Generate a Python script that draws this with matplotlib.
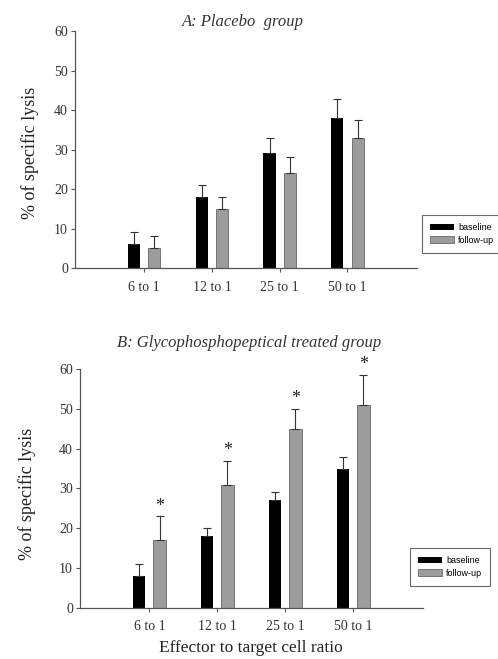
"""
Cytotoxicity bar charts: placebo vs glycophosphopeptical treated group.
"""

import matplotlib
matplotlib.use("Agg")
import matplotlib.pyplot as plt
import numpy as np

# ── data ─────────────────────────────────────────────────────────────
ratios = ["6 to 1", "12 to 1", "25 to 1", "50 to 1"]

placebo_base = [6, 18, 29, 38]
placebo_base_err = [3, 3, 4, 4.7]
placebo_follow = [5, 15, 24, 33]
placebo_follow_err = [3, 3, 4, 4.5]

treated_base = [8, 18, 27, 35]
treated_base_err = [3, 2, 2, 3]
treated_follow = [17, 31, 45, 51]
treated_follow_err = [6, 6, 5, 7.5]
treated_signif = [True, True, True, True]

yticks = [0, 10, 20, 30, 40, 50, 60]

SERIF = ["Liberation Serif", "DejaVu Serif"]
SANS = ["Liberation Sans", "DejaVu Sans"]
AXCOL = "#555555"


# ──────────────────────────────────────────────────────────────────────
def _panel(fig, rect, base, base_err, follow, follow_err, title, title_y,
           ylab_xy, legend_anchor, stars=None):
    ax = fig.add_axes(rect)
    x = np.arange(len(ratios))
    w, off = 0.18, 0.15
    ekw = dict(ecolor="#333333", elinewidth=0.8, capsize=3, capthick=0.8)
    zeros = np.zeros(len(ratios))
    ax.bar(x - off, base, w, color="black", label="baseline",
           yerr=[zeros, base_err], error_kw=ekw, zorder=2)
    ax.bar(x + off, follow, w, color="#9c9c9c", edgecolor="#666666",
           linewidth=0.6, label="follow-up",
           yerr=[zeros, follow_err], error_kw=ekw, zorder=2)

    if stars is not None:
        for xi, v, e, s in zip(x, follow, follow_err, stars):
            if s:
                ax.text(xi + off, v + e + 2.6, "*", ha="center", va="center",
                        fontsize=13, family=SERIF, color="#222222",
                        clip_on=False)

    ax.set_xlim(-1.02, 4.02)
    ax.set_ylim(0, 60)
    ax.set_yticks(yticks)
    ax.set_xticks(x)
    ax.set_xticklabels(ratios)
    for lab in ax.get_xticklabels() + ax.get_yticklabels():
        lab.set_family(SERIF)
        lab.set_fontsize(10)
        lab.set_color("#333333")
    ax.tick_params(axis="y", length=3, width=0.8, color=AXCOL, pad=2)
    ax.tick_params(axis="x", length=3, width=0.8, color=AXCOL, pad=6)
    for side in ("top", "right"):
        ax.spines[side].set_visible(False)
    for side in ("left", "bottom"):
        ax.spines[side].set_color(AXCOL)
        ax.spines[side].set_linewidth(0.9)

    ax.set_ylabel("% of specific lysis", family=SERIF, fontsize=13,
                  color="#222222")
    ax.yaxis.set_label_coords(*ylab_xy)
    fig.text(ax.get_position().x0 + 0.5 * ax.get_position().width - 0.005,
             title_y, title, family=SERIF, style="italic", fontsize=12,
             color="#333333", ha="center", va="center")

    leg = ax.legend(loc="upper left", bbox_to_anchor=legend_anchor,
                    bbox_transform=fig.transFigure, frameon=True,
                    fancybox=False, prop={"family": SANS, "size": 6.5},
                    handlelength=2.6, handleheight=0.8,
                    borderpad=0.9, labelspacing=0.4, handletextpad=0.5,
                    borderaxespad=0)
    leg.get_frame().set_edgecolor("#444444")
    leg.get_frame().set_linewidth(0.8)
    return ax


fig = plt.figure(figsize=(4.98, 6.59), dpi=100)

_panel(fig, [0.1506, 0.5933, 0.686, 0.3596],
       placebo_base, placebo_base_err, placebo_follow, placebo_follow_err,
       "A: Placebo  group", 1 - 22 / 659, (-0.106, 0.487),
       (422 / 498, 1 - 215 / 659))

ax_b = _panel(fig, [0.1606, 0.0774, 0.688, 0.3627],
              treated_base, treated_base_err, treated_follow,
              treated_follow_err,
              "B: Glycophosphopeptical treated group", 1 - 343 / 659,
              (-0.127, 0.477), (410 / 498, 1 - 548 / 659),
              stars=treated_signif)
ax_b.set_xlabel("Effector to target cell ratio", family=SERIF, fontsize=12.5,
                color="#222222", labelpad=5)

fig.savefig("out.png", dpi=100)
